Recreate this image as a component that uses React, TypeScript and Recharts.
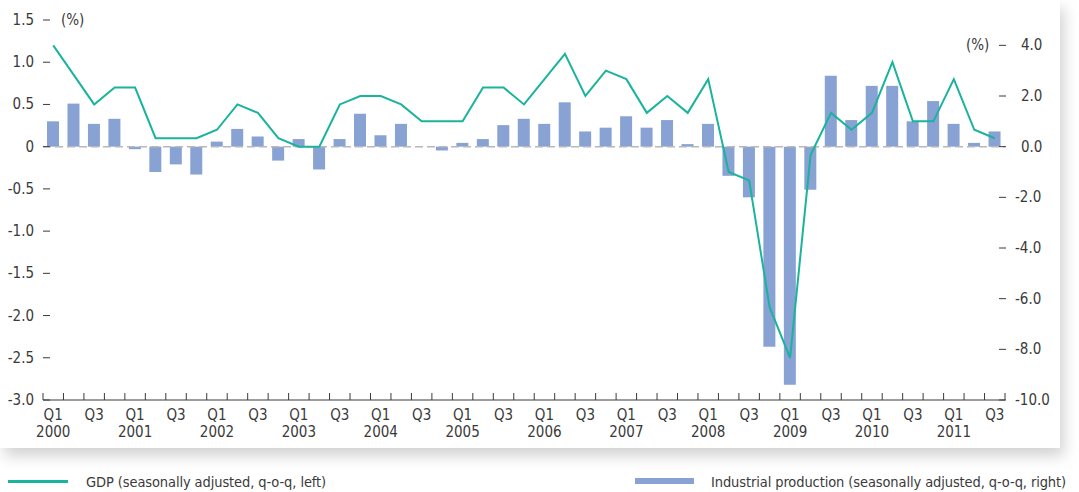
import React from "react";
import {
  ComposedChart,
  Bar,
  Line,
  XAxis,
  YAxis,
  ReferenceLine,
} from "recharts";

const categories = [
  "2000 Q1", "2000 Q2", "2000 Q3", "2000 Q4",
  "2001 Q1", "2001 Q2", "2001 Q3", "2001 Q4",
  "2002 Q1", "2002 Q2", "2002 Q3", "2002 Q4",
  "2003 Q1", "2003 Q2", "2003 Q3", "2003 Q4",
  "2004 Q1", "2004 Q2", "2004 Q3", "2004 Q4",
  "2005 Q1", "2005 Q2", "2005 Q3", "2005 Q4",
  "2006 Q1", "2006 Q2", "2006 Q3", "2006 Q4",
  "2007 Q1", "2007 Q2", "2007 Q3", "2007 Q4",
  "2008 Q1", "2008 Q2", "2008 Q3", "2008 Q4",
  "2009 Q1", "2009 Q2", "2009 Q3", "2009 Q4",
  "2010 Q1", "2010 Q2", "2010 Q3", "2010 Q4",
  "2011 Q1", "2011 Q2", "2011 Q3",
];

const gdp = [
  1.2, 0.85, 0.5, 0.7, 0.7, 0.1, 0.1, 0.1, 0.2, 0.5, 0.4, 0.1,
  0.0, 0.0, 0.5, 0.6, 0.6, 0.5, 0.3, 0.3, 0.3, 0.7, 0.7, 0.5,
  0.8, 1.1, 0.6, 0.9, 0.8, 0.4, 0.6, 0.4, 0.8, -0.3, -0.4, -1.9,
  -2.5, -0.1, 0.4, 0.2, 0.4, 1.0, 0.3, 0.3, 0.8, 0.2, 0.1,
];

const industrial = [
  1.0, 1.7, 0.9, 1.1, -0.1, -1.0, -0.7, -1.1, 0.2, 0.7, 0.4, -0.55,
  0.3, -0.9, 0.3, 1.3, 0.45, 0.9, 0, -0.15, 0.15, 0.3, 0.85, 1.1,
  0.9, 1.75, 0.6, 0.75, 1.2, 0.75, 1.05, 0.1, 0.9, -1.15, -2.0, -7.9,
  -9.4, -1.7, 2.8, 1.05, 2.4, 2.4, 1.0, 1.8, 0.9, 0.15, 0.6,
];

const leftTicks = [-3, -2.5, -2, -1.5, -1, -0.5, 0, 0.5, 1, 1.5];
const leftTickLabels = ["-3.0", "-2.5", "-2.0", "-1.5", "-1.0", "-0.5", "0", "0.5", "1.0", "1.5"];
const rightTicks = [-10, -8, -6, -4, -2, 0, 2, 4];
const rightTickLabels = ["-10.0", "-8.0", "-6.0", "-4.0", "-2.0", "0.0", "2.0", "4.0"];

const data = categories.map((c, i) => ({ cat: c, gdp: gdp[i], ip: industrial[i] }));

const FONT = "'Liberation Sans Narrow', 'DejaVu Sans Condensed', 'Arial Narrow', sans-serif";
const TEXT = "#3a3a3a";
const CHART_W = 1060;
const CHART_H = 448;
const TOP = 20;
const LEFT_W = 43;
const RIGHT_W = 55;
const XAXIS_H = 48;
const PLOT_W = CHART_W - LEFT_W - RIGHT_W;
const AXIS_Y = CHART_H - XAXIS_H;
const BAND = PLOT_W / categories.length;

const LeftTick = (props: any) => {
  const { y, payload } = props;
  const idx = leftTicks.indexOf(payload.value);
  return (
    <g>
      <text x={34} y={y} dy={5} textAnchor="end" fontFamily={FONT} fontSize={15} fill={TEXT}>
        {leftTickLabels[idx]}
      </text>
      <line x1={LEFT_W} x2={LEFT_W + 7} y1={y} y2={y} stroke={TEXT} strokeWidth={1} />
    </g>
  );
};

const RightTick = (props: any) => {
  const { y, payload } = props;
  const idx = rightTicks.indexOf(payload.value);
  const axisX = LEFT_W + PLOT_W;
  return (
    <g>
      <line x1={axisX - 6} x2={axisX + 1} y1={y} y2={y} stroke={TEXT} strokeWidth={1} />
      <text
        x={payload.value < 0 ? axisX + 10 : axisX + 16}
        y={y}
        dy={5}
        textAnchor="start"
        fontFamily={FONT}
        fontSize={15}
        fill={TEXT}
      >
        {rightTickLabels[idx]}
      </text>
    </g>
  );
};

const XTick = (props: any) => {
  const { x, payload } = props;
  const idx = categories.indexOf(payload.value);
  const [year, q] = String(payload.value).split(" ");
  const half = BAND / 2;
  return (
    <g>
      <line x1={x - half} x2={x - half} y1={AXIS_Y - 7} y2={AXIS_Y} stroke={TEXT} strokeWidth={1} />
      {idx === categories.length - 1 && (
        <line x1={x + half} x2={x + half} y1={AXIS_Y - 7} y2={AXIS_Y} stroke={TEXT} strokeWidth={1} />
      )}
      {(q === "Q1" || q === "Q3") && (
        <text x={x} y={AXIS_Y + 20} textAnchor="middle" fontFamily={FONT} fontSize={15} fill={TEXT}>
          {q}
        </text>
      )}
      {q === "Q1" && (
        <text x={x} y={AXIS_Y + 37} textAnchor="middle" fontFamily={FONT} fontSize={15} fill={TEXT}>
          {year}
        </text>
      )}
    </g>
  );
};

export default function App() {
  return (
    <div
      style={{
        position: "absolute",
        left: 0,
        top: 0,
        width: 1079,
        height: 492,
        background: "#ffffff",
        overflow: "hidden",
        fontFamily: FONT,
      }}
    >
      <div
        style={{
          position: "absolute",
          left: 0,
          top: 0,
          width: CHART_W,
          height: CHART_H,
          background: "#ffffff",
          boxShadow: "4px 8px 14px rgba(0,0,0,0.18)",
        }}
      >
        <ComposedChart
          width={CHART_W}
          height={CHART_H}
          data={data}
          margin={{ top: TOP, right: 0, bottom: 0, left: 0 }}
          barCategoryGap={0}
        >
          <XAxis
            dataKey="cat"
            height={XAXIS_H}
            interval={0}
            tickLine={false}
            axisLine={{ stroke: TEXT, strokeWidth: 1 }}
            tick={<XTick />}
          />
          <YAxis
            yAxisId="left"
            orientation="left"
            width={LEFT_W}
            domain={[-3, 1.5]}
            ticks={leftTicks}
            axisLine={false}
            tickLine={false}
            tick={<LeftTick />}
            allowDataOverflow
          />
          <YAxis
            yAxisId="right"
            orientation="right"
            width={RIGHT_W}
            domain={[-10, 5]}
            ticks={rightTicks}
            axisLine={false}
            tickLine={false}
            tick={<RightTick />}
            allowDataOverflow
          />
          <Bar yAxisId="right" dataKey="ip" fill="#87a2d3" barSize={12} isAnimationActive={false} />
          <ReferenceLine yAxisId="left" y={0} stroke="#b8b8b8" strokeWidth={1.5} strokeDasharray="8 4" />
          <Line
            yAxisId="left"
            dataKey="gdp"
            stroke="#1ab39c"
            strokeWidth={2}
            dot={false}
            isAnimationActive={false}
          />
        </ComposedChart>
        <span style={{ position: "absolute", left: 61, top: 10, fontSize: 15, color: TEXT, lineHeight: "20px" }}>
          (%)
        </span>
        <span style={{ position: "absolute", left: 966, top: 35, fontSize: 15, color: TEXT, lineHeight: "20px" }}>
          (%)
        </span>
      </div>
      <div style={{ position: "absolute", left: 8, top: 480, width: 60, height: 3, background: "#1ab39c" }} />
      <span
        style={{ position: "absolute", left: 86, top: 472, fontSize: 14.5, letterSpacing: -0.1, color: TEXT, lineHeight: "20px", whiteSpace: "nowrap" }}
      >
        GDP (seasonally adjusted, q-o-q, left)
      </span>
      <div style={{ position: "absolute", left: 635, top: 478, width: 59, height: 6, background: "#87a2d3" }} />
      <span
        style={{ position: "absolute", left: 711, top: 472, fontSize: 14.5, letterSpacing: -0.1, color: TEXT, lineHeight: "20px", whiteSpace: "nowrap" }}
      >
        Industrial production (seasonally adjusted, q-o-q, right)
      </span>
    </div>
  );
}
